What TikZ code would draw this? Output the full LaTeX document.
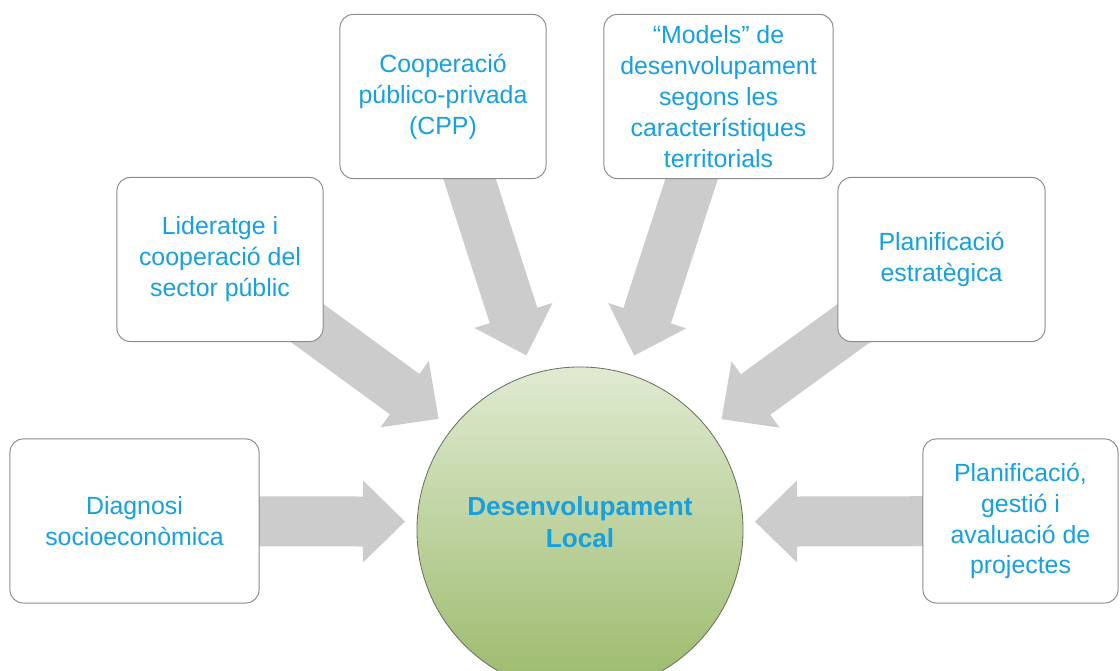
\documentclass[tikz,border=0pt]{standalone}
\usepackage{fontspec}
\setmainfont{Liberation Sans}
\usetikzlibrary{calc,backgrounds,positioning}
\definecolor{textblau}{RGB}{22,160,224}
\definecolor{fletxagris}{RGB}{204,204,204}
\definecolor{verdclar}{RGB}{224,234,210}
\definecolor{verdfosc}{RGB}{155,186,106}
\definecolor{voradura}{RGB}{140,140,140}
\newcommand\fletxa[2]{% caixa, focus
  \fill [fletxagris] let \p1 = ($(#1)-(#2)$), \n1 = {atan2(\y1,\x1)} in
    ($(#2)+(\n1:175)$) -- ($(#2)+(\n1:217)+(\n1+90:41)$)
    -- ($(#2)+(\n1:217)+(\n1+90:25)$) -- ($(#2)+(\n1:400)+(\n1+90:25)$)
    -- ($(#2)+(\n1:400)+(\n1-90:25)$) -- ($(#2)+(\n1:217)+(\n1-90:25)$)
    -- ($(#2)+(\n1:217)+(\n1-90:41)$) -- cycle;
}

\begin{document}
\begin{tikzpicture}[x=0.025cm, y=0.025cm,
  caixa/.style={draw=voradura, line width=0.7pt, rounded corners=0.33cm, fill=white,
    text=textblau, align=center, minimum height=4.1cm,
    font=\fontsize{17.7}{22}\selectfont}]
\useasboundingbox (0,0) rectangle (1120,671);
\clip (0,0) rectangle (1120,671);

\node (desenv) [circle, draw={rgb,255:red,105;green,115;blue,95}, line width=0.6pt,
  top color=verdclar, bottom color=verdfosc, minimum size=8.15cm] at (580,141) {};
\coordinate (focus) at ($(desenv.center)+(0,8)$);
\node (desenvtext) [text=textblau, align=center, font=\fontsize{18.6}{23}\selectfont\bfseries]
  at (focus) {Desenvolupament\\Local};

\node (diag) [caixa, minimum width=6.225cm] at (134.5,150) {Diagnosi\\socioeconòmica};
\node (lider) [caixa, minimum width=5.15cm] at (220,411.5) {Lideratge i\\cooperació del\\sector públic};
\node (cpp) [caixa, minimum width=5.15cm] at (443,574.5) {Cooperació\\público-privada\\(CPP)};
\node (models) [caixa, minimum width=5.725cm] at (718.5,574.5) {“Models” de\\desenvolupament\\segons les\\característiques\\territorials};
\node (planif) [caixa, minimum width=5.175cm] at (941.5,411.5) {Planificació\\estratègica};
\node (gestio) [caixa, minimum width=4.875cm] at (1020.5,150) {Planificació,\\gestió i\\avaluació de\\projectes};

\begin{scope}[on background layer]
  \foreach \c in {diag,lider,cpp,models,planif,gestio}
    {\fletxa{\c}{focus}}
\end{scope}
\end{tikzpicture}
\end{document}
